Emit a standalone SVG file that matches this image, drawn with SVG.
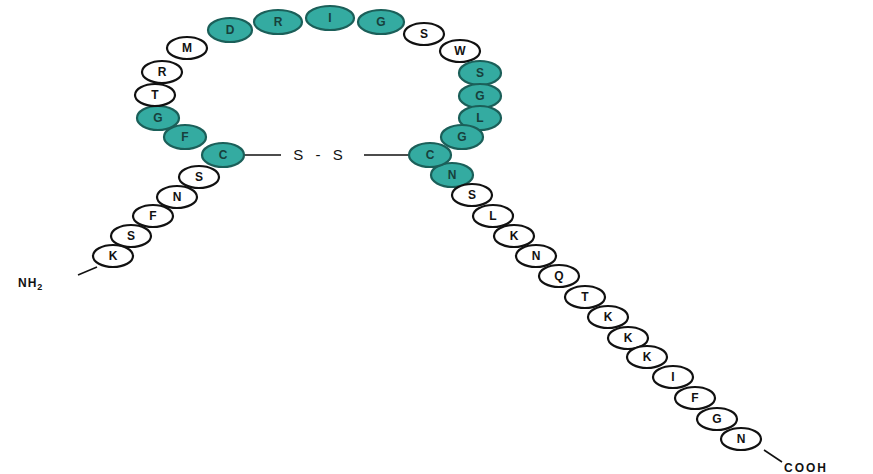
<svg xmlns="http://www.w3.org/2000/svg" width="873" height="474" viewBox="0 0 873 474">
<style>
.w ellipse{fill:#fff;stroke:#111;stroke-width:2.2}
.t ellipse{fill:#34aba1;stroke:#1b5f59;stroke-width:2.2}
text{font-family:"Liberation Sans",Arial,sans-serif;font-size:12px;font-weight:bold;text-anchor:middle;fill:#111}
.t text{fill:#17403c}
.lbl{font-size:12px;font-weight:bold;text-anchor:start}
.con line{stroke:#111;stroke-width:1.6}
</style>
<rect width="873" height="474" fill="#fff"/>
<g class="con" id="connectors">
<line x1="243" y1="155" x2="281" y2="155"/>
<line x1="364" y1="155" x2="409" y2="155"/>
<line x1="78" y1="275" x2="97" y2="267"/>
<line x1="764" y1="450" x2="782" y2="462"/>
</g>
<text x="320" y="160" style="font-size:15px;font-weight:normal;letter-spacing:4px">S - S</text>
<text class="lbl" x="18" y="287" style="letter-spacing:1px">NH<tspan dy="3" font-size="9">2</tspan></text>
<text class="lbl" x="784" y="472" style="letter-spacing:2px">COOH</text>
<g id="n1" class="w"><ellipse cx="113" cy="256" rx="20" ry="11"/><text x="113" y="260">K</text></g>
<g id="n2" class="w"><ellipse cx="131" cy="236" rx="20" ry="11"/><text x="131" y="240">S</text></g>
<g id="n3" class="w"><ellipse cx="153" cy="216" rx="20" ry="11"/><text x="153" y="220">F</text></g>
<g id="n4" class="w"><ellipse cx="177" cy="197" rx="20" ry="11"/><text x="177" y="201">N</text></g>
<g id="n5" class="w"><ellipse cx="199" cy="177" rx="20" ry="11"/><text x="199" y="181">S</text></g>
<g id="n7" class="t"><ellipse cx="185" cy="137" rx="21" ry="12"/><text x="185" y="141">F</text></g>
<g id="n6" class="t"><ellipse cx="223" cy="155" rx="21" ry="12"/><text x="223" y="159">C</text></g>
<g id="n8" class="t"><ellipse cx="158" cy="118" rx="21" ry="12"/><text x="158" y="122">G</text></g>
<g id="n9" class="w"><ellipse cx="155" cy="95" rx="20" ry="11"/><text x="155" y="99">T</text></g>
<g id="n10" class="w"><ellipse cx="162" cy="72" rx="20" ry="11"/><text x="162" y="76">R</text></g>
<g id="n11" class="w"><ellipse cx="187" cy="48" rx="20" ry="11"/><text x="187" y="52">M</text></g>
<g id="n12" class="t"><ellipse cx="230" cy="30" rx="22" ry="12"/><text x="230" y="34">D</text></g>
<g id="n13" class="t"><ellipse cx="278" cy="22" rx="24" ry="12"/><text x="278" y="26">R</text></g>
<g id="n14" class="t"><ellipse cx="330" cy="18" rx="24" ry="12"/><text x="330" y="22">I</text></g>
<g id="n15" class="t"><ellipse cx="381" cy="22" rx="23" ry="12"/><text x="381" y="26">G</text></g>
<g id="n16" class="w"><ellipse cx="424" cy="34" rx="20" ry="11"/><text x="424" y="38">S</text></g>
<g id="n17" class="w"><ellipse cx="460" cy="51" rx="20" ry="11"/><text x="460" y="55">W</text></g>
<g id="n18" class="t"><ellipse cx="480" cy="73" rx="21" ry="12"/><text x="480" y="77">S</text></g>
<g id="n19" class="t"><ellipse cx="480" cy="96" rx="21" ry="12"/><text x="480" y="100">G</text></g>
<g id="n20" class="t"><ellipse cx="480" cy="118" rx="21" ry="12"/><text x="480" y="122">L</text></g>
<g id="n21" class="t"><ellipse cx="462" cy="137" rx="21" ry="12"/><text x="462" y="141">G</text></g>
<g id="n23" class="t"><ellipse cx="452" cy="175" rx="21" ry="12"/><text x="452" y="179">N</text></g>
<g id="n22" class="t"><ellipse cx="430" cy="155" rx="21" ry="12"/><text x="430" y="159">C</text></g>
<g id="n24" class="w"><ellipse cx="472" cy="195" rx="20" ry="11"/><text x="472" y="199">S</text></g>
<g id="n25" class="w"><ellipse cx="493" cy="216" rx="20" ry="11"/><text x="493" y="220">L</text></g>
<g id="n26" class="w"><ellipse cx="514" cy="236" rx="20" ry="11"/><text x="514" y="240">K</text></g>
<g id="n27" class="w"><ellipse cx="536" cy="256" rx="20" ry="11"/><text x="536" y="260">N</text></g>
<g id="n28" class="w"><ellipse cx="559" cy="276" rx="20" ry="11"/><text x="559" y="280">Q</text></g>
<g id="n29" class="w"><ellipse cx="585" cy="297" rx="20" ry="11"/><text x="585" y="301">T</text></g>
<g id="n30" class="w"><ellipse cx="608" cy="317" rx="20" ry="11"/><text x="608" y="321">K</text></g>
<g id="n31" class="w"><ellipse cx="628" cy="338" rx="20" ry="11"/><text x="628" y="342">K</text></g>
<g id="n32" class="w"><ellipse cx="647" cy="357" rx="20" ry="11"/><text x="647" y="361">K</text></g>
<g id="n33" class="w"><ellipse cx="673" cy="377" rx="20" ry="11"/><text x="673" y="381">I</text></g>
<g id="n34" class="w"><ellipse cx="695" cy="398" rx="20" ry="11"/><text x="695" y="402">F</text></g>
<g id="n35" class="w"><ellipse cx="717" cy="419" rx="20" ry="11"/><text x="717" y="423">G</text></g>
<g id="n36" class="w"><ellipse cx="741" cy="439" rx="20" ry="11"/><text x="741" y="443">N</text></g>
</svg>
